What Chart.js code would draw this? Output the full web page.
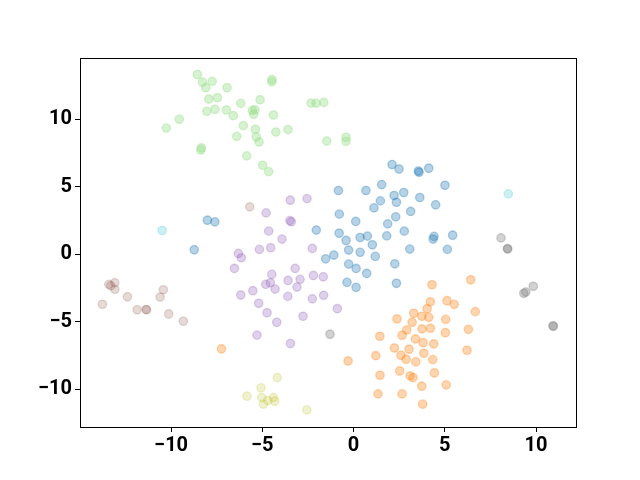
<!DOCTYPE html>
<html>
<head>
<meta charset="utf-8">
<script src="https://cdn.jsdelivr.net/npm/chart.js@4"></script>
<style>
html,body{margin:0;padding:0;background:#fff;}
canvas{display:block;}
</style>
</head>
<body>
<canvas id="c" width="640" height="480"></canvas>
<script>
// Tick labels
const xTicks = [-10, -5, 0, 5, 10];
const yTicks = [-10, -5, 0, 5, 10];

// Cluster values
const blueX = [2.11,2.49,3.55,3.59,4.12,5.01,1.54,-0.83,0.68,2.22,2.75,2.35,1.47,1.12,3.63,4.50,3.13,-0.78,2.31,0.12,1.87,-2.04,-0.79,-0.41,0.36,0.76,1.82,2.78,4.41,4.36,5.43,-0.27,0.36,1.03,1.19,3.08,5.14,-1.53,-1.08,-0.27,0.14,0.72,2.26,-0.36,0.14,2.35,-8.01,-7.60,-8.73];
const blueY = [6.63,6.30,6.15,6.06,6.36,5.10,5.15,4.71,4.71,4.34,4.56,3.84,3.94,3.42,4.19,3.65,3.16,2.96,2.76,2.42,2.24,1.78,1.55,1.01,1.23,1.33,1.35,1.70,1.31,1.11,1.40,0.30,0.13,0.69,-0.17,0.37,0.35,-0.35,-0.07,-0.74,-1.06,-1.43,-0.72,-2.09,-2.46,-2.16,2.51,2.39,0.32];

const orangeX = [4.30,6.42,4.21,4.03,5.12,5.52,6.67,3.30,3.74,4.12,2.38,3.21,5.05,2.92,3.75,4.21,5.03,6.29,1.44,2.66,3.39,3.81,4.39,2.24,3.04,6.22,1.22,2.60,2.88,3.41,3.85,4.34,-0.30,2.53,4.43,3.10,3.26,1.45,3.74,5.08,1.34,2.66,3.79,-7.24];
const orangeY = [-2.27,-1.90,-3.53,-4.04,-3.45,-3.72,-4.26,-4.38,-4.60,-4.68,-4.80,-5.05,-4.83,-5.62,-5.54,-5.49,-5.82,-5.57,-6.08,-6.01,-6.28,-6.56,-6.65,-6.95,-7.04,-7.12,-7.52,-7.49,-7.78,-7.98,-7.34,-7.81,-7.91,-8.65,-8.80,-9.02,-9.14,-8.97,-9.78,-9.68,-10.35,-10.35,-11.11,-7.02];

const greenX = [-8.56,-8.28,-7.75,-8.10,-6.93,-4.47,-4.48,-7.93,-7.46,-5.12,-6.18,-2.33,-2.05,-1.63,-8.04,-7.59,-6.97,-6.59,-5.55,-5.41,-5.47,-4.39,-9.55,-10.26,-6.04,-5.38,-4.26,-3.59,-6.40,-5.33,-5.18,-1.47,-8.34,-8.37,-5.85,-4.98,-4.65,-0.41,-0.41];
const greenY = [13.30,12.73,12.79,12.32,12.32,12.93,12.76,11.48,11.58,11.43,11.16,11.18,11.18,11.23,10.57,10.72,10.67,10.25,10.64,10.69,10.35,10.30,9.98,9.33,9.51,9.24,9.04,9.22,8.72,8.67,8.30,8.37,7.86,7.71,7.27,6.58,6.11,8.65,8.35];

const purpleX = [-3.47,-2.55,-4.79,-3.49,-3.41,-4.65,-3.92,-5.16,-4.54,-2.26,-6.31,-6.15,-6.53,-4.48,-3.20,-4.81,-4.56,-4.30,-3.59,-2.93,-3.10,-2.20,-1.66,-6.18,-5.52,-3.60,-2.26,-1.64,-5.20,-0.89,-4.74,-2.77,-4.21,-5.29,-3.46];
const purpleY = [3.99,4.11,3.05,2.48,2.40,1.70,1.11,0.35,0.47,0.42,0.05,-0.27,-1.06,-1.50,-1.06,-2.24,-2.12,-2.59,-1.95,-1.87,-2.44,-1.58,-1.68,-3.03,-2.71,-3.13,-3.31,-3.05,-3.64,-4.04,-4.34,-4.60,-5.05,-6.00,-6.62];

const brownX = [-5.69,-13.41,-13.30,-13.08,-13.08,-10.42,-10.60,-12.39,-13.76,-11.86,-11.37,-11.34,-10.13,-9.33];
const brownY = [3.50,-2.24,-2.34,-2.12,-2.61,-2.64,-3.18,-3.16,-3.71,-4.12,-4.10,-4.12,-4.43,-4.97];

const grayX = [8.08,8.43,8.45,9.85,9.33,9.44,10.93,10.95,-1.29];
const grayY = [1.20,0.41,0.38,-2.38,-2.90,-2.81,-5.31,-5.34,-5.93];

const oliveX = [-4.18,-5.07,-5.84,-5.03,-4.70,-4.39,-4.32,-4.94,-2.56];
const oliveY = [-9.14,-9.90,-10.52,-10.62,-10.84,-10.62,-10.89,-11.11,-11.53];

const cyanX = [-10.49, 8.48];
const cyanY = [1.75, 4.46];

const clusters = [
  {x: blueX,   y: blueY,   c: 'rgba(31,119,180,0.33)'},
  {x: orangeX, y: orangeY, c: 'rgba(255,127,14,0.33)'},
  {x: greenX,  y: greenY,  c: 'rgba(152,223,138,0.40)'},
  {x: purpleX, y: purpleY, c: 'rgba(148,103,189,0.30)'},
  {x: brownX,  y: brownY,  c: 'rgba(140,86,75,0.22)'},
  {x: grayX,   y: grayY,   c: 'rgba(127,127,127,0.35)'},
  {x: oliveX,  y: oliveY,  c: 'rgba(188,189,34,0.22)'},
  {x: cyanX,   y: cyanY,   c: 'rgba(23,190,207,0.22)'}
];

const datasets = clusters.map(cl => ({
  data: cl.x.map((v, i) => ({x: v, y: cl.y[i]})),
  backgroundColor: cl.c,
  borderColor: cl.c,
  borderWidth: 1.3,
  pointRadius: 4.2,
  pointHoverRadius: 4.2
}));

const fmt = v => (v < 0 ? '\u2212' + Math.abs(v) : String(v));
const tickFont = {family: 'Roboto', weight: 'bold', size: 20};

const frame = {
  id: 'frame',
  afterDraw(chart) {
    const a = chart.chartArea, ctx = chart.ctx;
    ctx.save();
    ctx.strokeStyle = '#000';
    ctx.lineWidth = 1;
    ctx.strokeRect(Math.round(a.left) + 0.5, Math.round(a.top) + 0.5, Math.round(a.right - a.left), Math.round(a.bottom - a.top));
    ctx.restore();
  }
};

new Chart(document.getElementById('c'), {
  type: 'scatter',
  data: {datasets},
  plugins: [frame],
  options: {
    responsive: false,
    animation: false,
    devicePixelRatio: 1,
    layout: {padding: {left: 0, top: 58, right: 64, bottom: 0}},
    plugins: {legend: {display: false}, tooltip: {enabled: false}},
    scales: {
      x: {
        type: 'linear',
        min: -14.99, max: 12.19,
        afterBuildTicks: ax => { ax.ticks = xTicks.map(v => ({value: v})); },
        afterFit: ax => { ax.height = 53; },
        grid: {drawOnChartArea: false, drawTicks: true, tickLength: 5, color: '#000', tickWidth: 1},
        border: {display: true, color: '#000', width: 1},
        ticks: {color: '#000', font: tickFont, padding: 2, maxRotation: 0, callback: v => fmt(v)}
      },
      y: {
        type: 'linear',
        min: -12.80, max: 14.52,
        afterBuildTicks: ax => { ax.ticks = yTicks.map(v => ({value: v})); },
        afterFit: ax => { ax.width = 80; },
        grid: {drawOnChartArea: false, drawTicks: true, tickLength: 5, color: '#000', tickWidth: 1},
        border: {display: true, color: '#000', width: 1},
        ticks: {color: '#000', font: tickFont, padding: 3, callback: v => fmt(v)}
      }
    }
  }
});
</script>
</body>
</html>
